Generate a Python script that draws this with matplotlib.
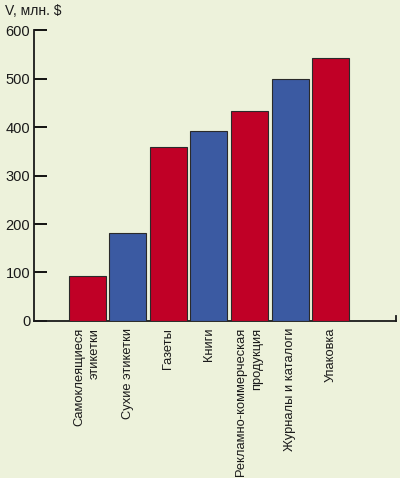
import matplotlib.pyplot as plt

plt.rcParams['font.family'] = ['Liberation Sans', 'DejaVu Sans']

categories = ['Самоклеящиеся\nэтикетки', 'Сухие этикетки', 'Газеты', 'Книги',
              'Рекламно-коммерческая\nпродукция', 'Журналы и каталоги', 'Упаковка']
values = [93, 181, 359, 392, 434, 500, 542]
colors = ['#C00026', '#3B5AA2', '#C00026', '#3B5AA2', '#C00026', '#3B5AA2', '#C00026']
yticks = [0, 100, 200, 300, 400, 500, 600]

bg = '#EDF2DB'
fig = plt.figure(figsize=(4, 4.78), dpi=100, facecolor=bg)
ax = fig.add_axes([0.086, 0.3285, 0.904, 0.6085], facecolor=bg)

x = list(range(len(values)))
ax.bar(x, values, width=0.91, color=colors, edgecolor='#2a2a2a', linewidth=0.8, zorder=3)

ax.set_xlim(-1.3, 7.61)
ax.set_ylim(0, 600)
ax.set_yticks(yticks)
ax.set_yticklabels([str(t) for t in yticks], fontsize=10.5, color='#1a1a1a')
ax.tick_params(axis='y', direction='in', length=9, width=1.3, pad=3)
ax.set_xticks(x)
ax.set_xticklabels(categories, rotation=90, fontsize=9.3, color='#1a1a1a',
                   ha='center', va='top', multialignment='right', linespacing=1.45)
ax.tick_params(axis='x', length=0, pad=5)

ax.spines['top'].set_visible(False)
ax.spines['right'].set_bounds(0, 10)
for s in ['left', 'bottom', 'right']:
    ax.spines[s].set_linewidth(1.3)
    ax.spines[s].set_color('#1a1a1a')

fig.text(0.012, 1 - 11 / 478, 'V, млн. $', fontsize=10, color='#1a1a1a', va='center', ha='left')

fig.savefig('out.png', dpi=100, facecolor=bg)
